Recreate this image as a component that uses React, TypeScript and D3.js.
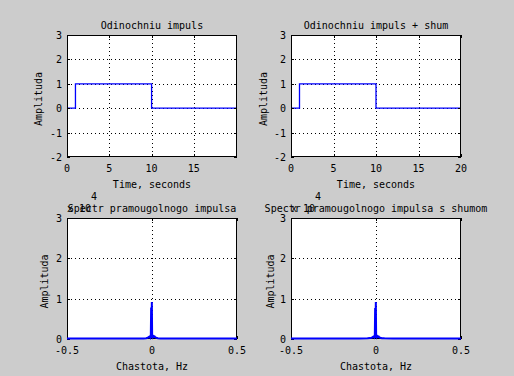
import React from "react";
import * as d3 from "d3";

const W = 514;
const H = 376;

const pulseTime = [0, 1, 1, 10, 10, 20];
const pulseAmp = [0, 0, 1, 1, 0, 0];
const pulseNoiseAmp = [0, 0, 1, 1, 0, 0];

const timeTicksA = [0, 5, 10, 15];
const timeTicksB = [0, 5, 10, 15, 20];
const ampTicks = [-2, -1, 0, 1, 2, 3];

const freq = [-0.5, -0.2, -0.1, -0.05, -0.035, -0.025, -0.02, -0.015, -0.01, -0.007, -0.005, -0.003, -0.001, 0.001, 0.003, 0.005, 0.008, 0.012, 0.016, 0.02, 0.025, 0.035, 0.05, 0.1, 0.2, 0.5];
const spec = [0.01, 0.01, 0.012, 0.015, 0.02, 0.03, 0.05, 0.06, 0.03, 0.07, 0.78, 0.2, 0.92, 0.03, 0.1, 0.05, 0.07, 0.05, 0.06, 0.04, 0.03, 0.02, 0.015, 0.012, 0.01, 0.01];
const specNoise = [0.012, 0.011, 0.013, 0.016, 0.022, 0.03, 0.05, 0.06, 0.035, 0.07, 0.77, 0.22, 0.92, 0.03, 0.1, 0.05, 0.07, 0.05, 0.06, 0.04, 0.03, 0.02, 0.016, 0.012, 0.011, 0.012];
const freqTicks = [-0.5, 0, 0.5];
const freqTickLabels = ["-0.5", "0", "0.5"];
const specTicks = [0, 1, 2, 3];

const FONT = "'DejaVu Sans Mono', monospace";
const FS = 10;

type PanelProps = {
  left: number; right: number; top: number; bottom: number;
  xDomain: [number, number]; yDomain: [number, number];
  xTicks: number[]; xTickLabels: string[]; yTicks: number[];
  xs: number[]; ys: number[];
  title: string; xlabel: string; ylabelX: number;
  exponent?: boolean; lineWidth: number; dataOnTop: boolean;
  titleY: number;
};

function Panel(p: PanelProps) {
  const x = d3.scaleLinear().domain(p.xDomain).range([p.left, p.right]);
  const y = d3.scaleLinear().domain(p.yDomain).range([p.bottom, p.top]);
  const line = d3.line<number>().x((_, i) => x(p.xs[i])).y((d) => y(d));
  const path = line(p.ys) || "";
  const cx = (p.left + p.right) / 2;
  const cy = (p.top + p.bottom) / 2;
  const data = (
    <path d={path} fill="none" stroke="#0000ff" strokeWidth={p.lineWidth} strokeLinejoin="miter" />
  );
  return (
    <g>
      <rect x={p.left} y={p.top} width={p.right - p.left} height={p.bottom - p.top} fill="#ffffff" />
      {p.xTicks.filter((t) => t > p.xDomain[0] && t < p.xDomain[1]).map((t) => (
        <line key={"gx" + t} x1={Math.round(x(t)) + 0.5} x2={Math.round(x(t)) + 0.5} y1={p.top} y2={p.bottom} stroke="#000" strokeWidth={1} strokeDasharray="1,3" />
      ))}
      {p.yTicks.filter((t) => t > p.yDomain[0] && t < p.yDomain[1]).map((t) => (
        <line key={"gy" + t} x1={p.left} x2={p.right} y1={Math.round(y(t)) + 0.5} y2={Math.round(y(t)) + 0.5} stroke="#000" strokeWidth={1} strokeDasharray="1,3" />
      ))}
      {!p.dataOnTop && data}
      <rect x={p.left + 0.5} y={p.top + 0.5} width={p.right - p.left - 1} height={p.bottom - p.top - 1} fill="none" stroke="#000" strokeWidth={1} shapeRendering="crispEdges" />
      {p.xTicks.map((t) => (
        <g key={"tx" + t}>
          <line x1={Math.round(x(t)) + 0.5} x2={Math.round(x(t)) + 0.5} y1={p.bottom} y2={p.bottom - 3} stroke="#000" />
          <line x1={Math.round(x(t)) + 0.5} x2={Math.round(x(t)) + 0.5} y1={p.top} y2={p.top + 3} stroke="#000" />
        </g>
      ))}
      {p.yTicks.map((t) => (
        <g key={"ty" + t}>
          <line x1={p.left} x2={p.left + 3} y1={Math.round(y(t)) + 0.5} y2={Math.round(y(t)) + 0.5} stroke="#000" />
          <line x1={p.right} x2={p.right - 3} y1={Math.round(y(t)) + 0.5} y2={Math.round(y(t)) + 0.5} stroke="#000" />
        </g>
      ))}
      {p.dataOnTop && data}
      {p.xTicks.map((t, i) => (
        <text key={"lx" + t} x={x(t)} y={p.bottom + 14.5} textAnchor="middle" fontFamily={FONT} fontSize={FS} fill="#000">
          {p.xTickLabels[i]}
        </text>
      ))}
      {p.yTicks.map((t) => (
        <text key={"ly" + t} x={p.left - 5} y={y(t) + 4} textAnchor="end" fontFamily={FONT} fontSize={FS} fill="#000">
          {t < 0 ? "-" + Math.abs(t) : String(t)}
        </text>
      ))}
      <text x={cx} y={p.bottom + 31} textAnchor="middle" fontFamily={FONT} fontSize={FS} fill="#000">{p.xlabel}</text>
      <text transform={`translate(${p.ylabelX},${cy + 3}) rotate(-90)`} textAnchor="middle" fontFamily={FONT} fontSize={FS} fill="#000">Amplituda</text>
      {p.exponent && (
        <g>
          <text x={p.left} y={p.top - 6.5} fontFamily={FONT} fontSize={FS} fill="#000">x 10</text>
          <text x={p.left + 24} y={p.top - 18.5} fontFamily={FONT} fontSize={FS} fill="#000">4</text>
        </g>
      )}
      <text x={cx} y={p.titleY} textAnchor="middle" fontFamily={FONT} fontSize={FS} fill="#000">{p.title}</text>
    </g>
  );
}

export default function App() {
  return (
    <svg width={W} height={H} style={{ position: "absolute", left: 0, top: 0 }}>
      <rect x={0} y={0} width={W} height={H} fill="#cccccc" />
      <Panel left={67} right={237} top={35} bottom={157} xDomain={[0, 20.1]} yDomain={[-2, 3]}
        xTicks={timeTicksA} xTickLabels={timeTicksA.map(String)} yTicks={ampTicks}
        xs={pulseTime} ys={pulseAmp} title="Odinochniu impuls" xlabel="Time, seconds" ylabelX={41.5}
        lineWidth={1.3} dataOnTop={false} titleY={29} />
      <Panel left={291} right={461} top={35} bottom={157} xDomain={[0, 20]} yDomain={[-2, 3]}
        xTicks={timeTicksB} xTickLabels={timeTicksB.map(String)} yTicks={ampTicks}
        xs={pulseTime} ys={pulseNoiseAmp} title="Odinochniu impuls + shum" xlabel="Time, seconds" ylabelX={267}
        lineWidth={1.3} dataOnTop={false} titleY={29} />
      <Panel left={67} right={237} top={218} bottom={339} xDomain={[-0.5, 0.5]} yDomain={[0, 3]}
        xTicks={freqTicks} xTickLabels={freqTickLabels} yTicks={specTicks}
        xs={freq} ys={spec} title="Spectr pramougolnogo impulsa" xlabel="Chastota, Hz" ylabelX={48}
        exponent lineWidth={2} dataOnTop={true} titleY={211.5} />
      <Panel left={291} right={461} top={218} bottom={339} xDomain={[-0.5, 0.5]} yDomain={[0, 3]}
        xTicks={freqTicks} xTickLabels={freqTickLabels} yTicks={specTicks}
        xs={freq} ys={specNoise} title="Spectr pramougolnogo impulsa s shumom" xlabel="Chastota, Hz" ylabelX={273.5}
        exponent lineWidth={2} dataOnTop={true} titleY={211.5} />
    </svg>
  );
}
